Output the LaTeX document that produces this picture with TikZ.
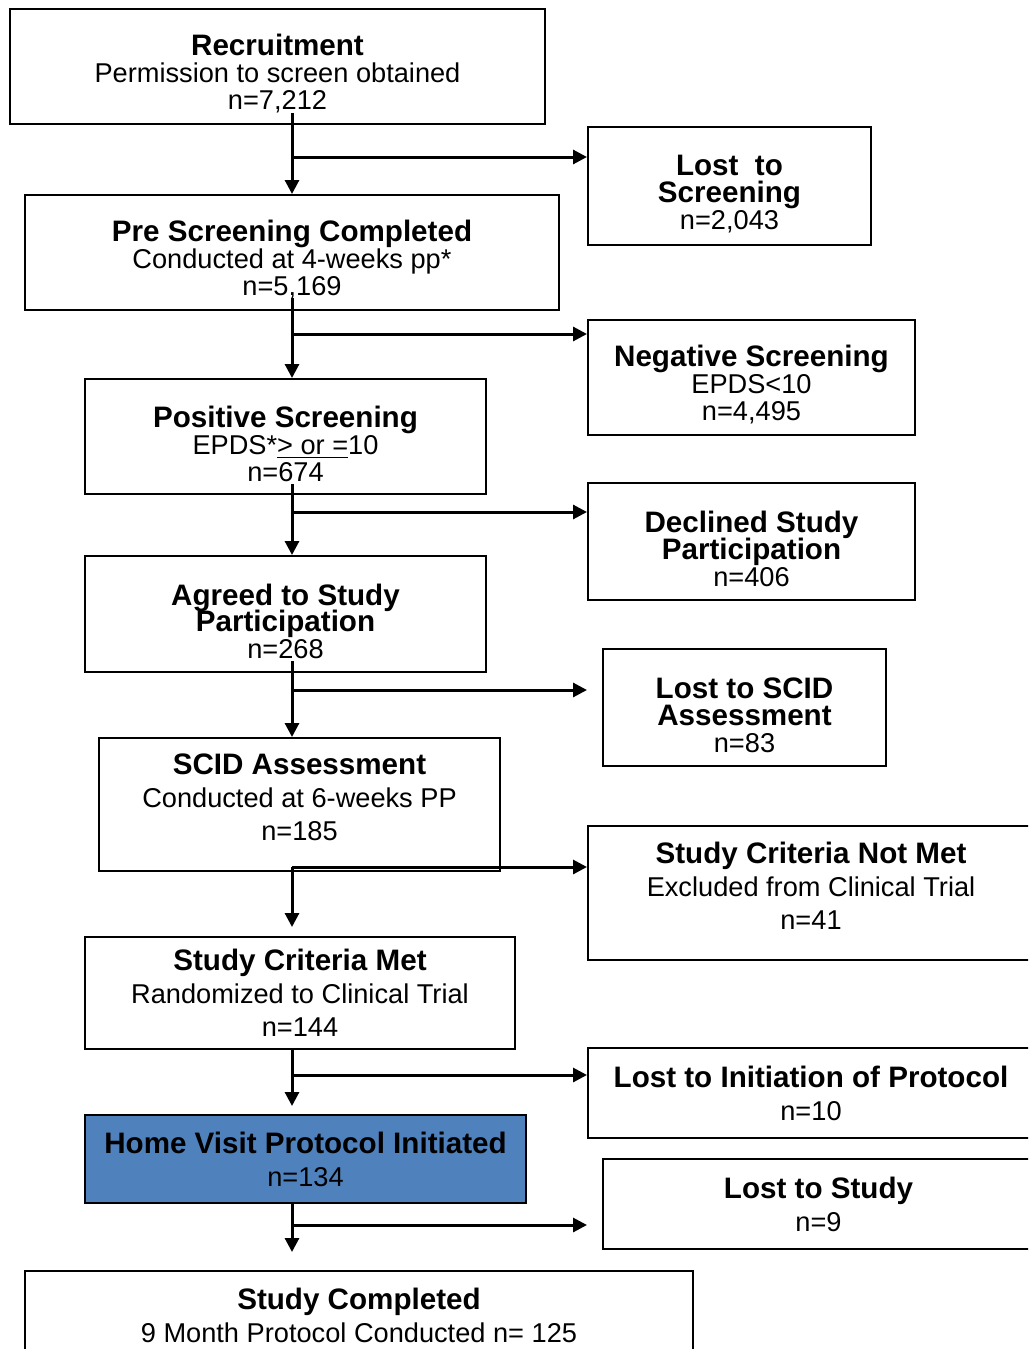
\documentclass[tikz,border=0pt]{standalone}
\usepackage{fontspec}
\setmainfont{Liberation Sans}
\usetikzlibrary{arrows.meta}

\definecolor{homeblue}{RGB}{79,129,189}
\setlength{\lineskiplimit}{-10pt}

\tikzset{
  flowbox/.style={draw, line width=1pt, align=center, inner sep=0pt,
    font=\fontsize{13.6}{13.4}\selectfont},
  lowbox/.style={flowbox, font=\fontsize{13.6}{16.5}\selectfont},
  flow/.style={line width=1.5pt, -{Triangle[length=7pt,width=7pt]}},
}
\newcommand{\hd}[1]{{\bfseries\fontsize{14.8}{14.8}\selectfont #1}}
% struts that move the text block off the box centre
\newcommand{\txtdown}{\rule{0pt}{18pt}}
\newcommand{\txtup}{\rule[-7.5pt]{0pt}{7.5pt}}

\begin{document}
\begin{tikzpicture}[x=0.5pt,y=-0.5pt]

\useasboundingbox (0,0) rectangle (1028,1349);
\clip (0,0) rectangle (1028,1349);

% main column
\node[flowbox, minimum width=267.5pt, minimum height=57.5pt] (rec) at (277.5,66.5)
  {\txtdown\hd{Recruitment}\\Permission to screen obtained\\n=7,212};
\node[flowbox, minimum width=267pt, minimum height=57.5pt] (pre) at (292,252.5)
  {\txtdown\hd{Pre Screening Completed}\\Conducted at 4-weeks pp*\\n=5,169};
\node[flowbox, minimum width=200.5pt, minimum height=57.5pt] (pos) at (285.5,436.5)
  {\txtdown\hd{Positive Screening}\\EPDS*\underline{> or =}10\\n=674};
\node[flowbox, minimum width=200.5pt, minimum height=58pt] (agree) at (285.5,614)
  {\txtdown\hd{Agreed to Study}\\\hd{Participation}\\n=268};
\node[lowbox, minimum width=200.5pt, minimum height=66.5pt] (scid) at (299.5,804.5)
  {\hd{SCID Assessment}\\Conducted at 6-weeks PP\\n=185\txtup};
\node[lowbox, minimum width=215pt, minimum height=56pt] (met) at (300,993)
  {\hd{Study Criteria Met}\\Randomized to Clinical Trial\\n=144};
\node[lowbox, fill=homeblue, minimum width=220.5pt, minimum height=44pt] (home) at (305.5,1159)
  {\hd{Home Visit Protocol Initiated}\\n=134};
\node[lowbox, minimum width=334pt, minimum height=44.5pt] (done) at (359,1315.5)
  {\hd{Study Completed}\\9 Month Protocol Conducted n= 125};

% side boxes
\node[flowbox, minimum width=141.5pt, minimum height=59pt] (lostscr) at (729.5,186)
  {\txtdown\hd{Lost\ \ to}\\\hd{Screening}\\n=2,043};
\node[flowbox, minimum width=163.5pt, minimum height=57.5pt] (neg) at (751.5,377.5)
  {\txtdown\hd{Negative Screening}\\EPDS<10\\n=4,495};
\node[flowbox, minimum width=163.5pt, minimum height=58.5pt] (decl) at (751.5,541.5)
  {\txtdown\hd{Declined Study}\\\hd{Participation}\\n=406};
\node[flowbox, minimum width=141.5pt, minimum height=58.5pt] (lostscid) at (744.5,707.5)
  {\txtdown\hd{Lost to SCID}\\\hd{Assessment}\\n=83};
\node[lowbox, minimum width=223pt, minimum height=67pt] (notmet) at (811,893)
  {\hd{Study Criteria Not Met}\\Excluded from Clinical Trial\\n=41\txtup};
\node[lowbox, minimum width=223pt, minimum height=45pt] (lostinit) at (811,1093)
  {\hd{Lost to Initiation of Protocol}\\n=10};
\node[lowbox, minimum width=215.5pt, minimum height=45pt] (loststudy) at (818.5,1204)
  {\hd{Lost to Study}\\n=9};

% spine and branch points
\coordinate (spine) at (292,0);
\coordinate (b1) at (292,157);
\coordinate (b2) at (292,334);
\coordinate (b3) at (292,512);
\coordinate (b4) at (292,690);
\coordinate (b5) at (292,867);
\coordinate (b6) at (292,1075);
\coordinate (b7) at (292,1225);

% down the column
\draw[flow] ([yshift=6pt]rec.south -| spine) -- (pre.north -| spine);
\draw[flow] ([yshift=6.5pt]pre.south -| spine) -- (pos.north -| spine);
\draw[flow] ([yshift=5.5pt]pos.south -| spine) -- (agree.north -| spine);
\draw[flow] ([yshift=6pt]agree.south -| spine) -- (scid.north -| spine);
\draw[flow] (b5) -- ([yshift=4.5pt]met.north -| spine);
\draw[flow] (met.south -| spine) -- ([yshift=4pt]home.north -| spine);
\draw[flow] (home.south -| spine) -- ([yshift=9pt]done.north -| spine);

% out to the side
\draw[flow] (b1) -- (b1 -| lostscr.west);
\draw[flow] (b2) -- (b2 -| neg.west);
\draw[flow] (b3) -- (b3 -| decl.west);
\draw[flow] (b4) -- (b4 -| decl.west);
\draw[flow] (b5) -- (b5 -| notmet.west);
\draw[flow] (b6) -- (b6 -| lostinit.west);
\draw[flow] (b7) -- (b7 -| lostinit.west);

\end{tikzpicture}
\end{document}
